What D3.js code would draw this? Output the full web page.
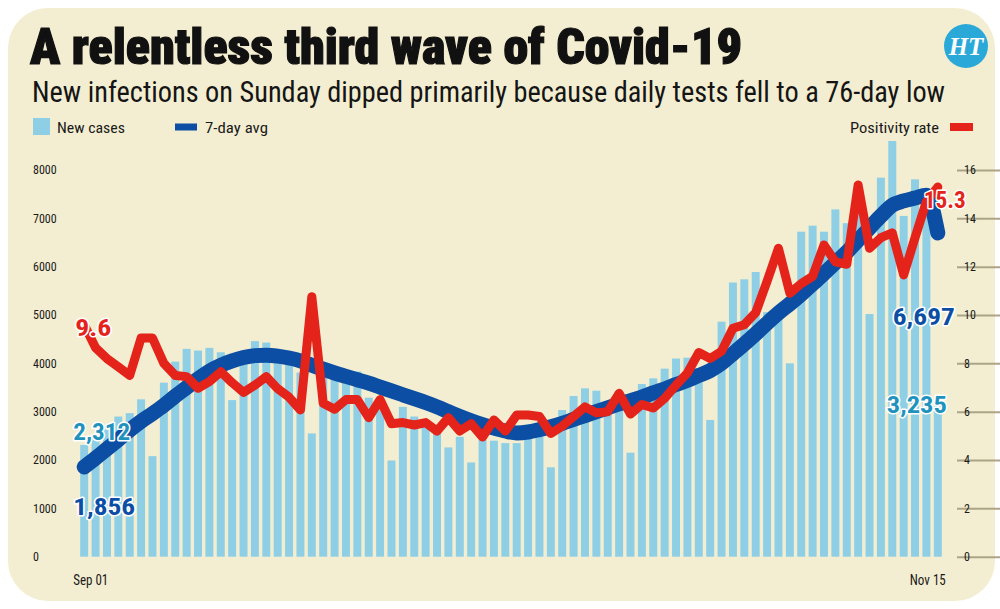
<!DOCTYPE html>
<html>
<head>
<meta charset="utf-8">
<script src="https://cdn.jsdelivr.net/npm/d3@7"></script>
<style>
  html, body { margin: 0; padding: 0; background: #ffffff; }
  svg { display: block; }
</style>
</head>
<body>
<svg id="chart" width="1000" height="609"></svg>
<script>
// ---------------- DATA ----------------
const titleText = "A relentless third wave of Covid-19";
const subtitleText = "New infections on Sunday dipped primarily because daily tests fell to a 76-day low";

// categories: Sep 01 .. Nov 15 (76 days)
const days = d3.timeDay.range(new Date(2020, 8, 1), new Date(2020, 10, 16));

// New cases (bars)
const newCases = [
  2312, 2450, 2700, 2900, 2970, 3256, 2080, 3600, 4035, 4300,
  4265, 4320, 4230, 3240, 4100, 4460, 4430, 4130, 4070, 3810,
  2550, 3820, 3710, 3830, 3830, 3290, 3200, 1990, 3100, 2900,
  2800, 2700, 2260, 2480, 1950, 2420, 2400, 2350, 2350, 2480,
  2480, 1850, 3035, 3324, 3483, 3434, 2950, 3100, 2152, 3572,
  3690, 3890, 4100, 4117, 3900, 2830, 4862, 5673, 5738, 5890,
  5060, 5000, 4000, 6724, 6848, 6724, 7185, 6900, 7745, 5021,
  7841, 8600, 7050, 7807, 7340, 3235
];

// 7-day average (thick blue line)
const avg7 = [
  1856, 2040, 2230, 2420, 2620, 2800, 2960, 3130, 3320, 3500,
  3680, 3840, 3960, 4050, 4120, 4160, 4170, 4150, 4110, 4050,
  3960, 3880, 3800, 3730, 3660, 3590, 3510, 3430, 3350, 3270,
  3190, 3100, 3000, 2900, 2810, 2730, 2660, 2600, 2560, 2580,
  2630, 2690, 2760, 2840, 2920, 3000, 3080, 3160, 3230, 3300,
  3390, 3470, 3560, 3650, 3750, 3850, 4000, 4200, 4400, 4610,
  4830, 5040, 5230, 5430, 5640, 5860, 6080, 6300, 6550, 6800,
  7050, 7270, 7360, 7420, 7480, 6697
];

// Positivity rate, % (red line, right axis)
const positivity = [
  9.6, 8.65, 8.2, 7.85, 7.5, 9.05, 9.05, 8.0, 7.5, 7.45,
  6.97, 7.24, 7.65, 7.2, 6.8, 7.1, 7.45, 6.95, 6.6, 6.07,
  10.76, 6.35, 6.1, 6.5, 6.5, 5.75, 6.5, 5.5, 5.55, 5.45,
  5.55, 5.2, 5.75, 5.2, 5.5, 4.95, 5.66, 5.2, 5.86, 5.86,
  5.8, 5.1, 5.4, 5.8, 6.2, 5.95, 6.0, 6.76, 5.9, 6.3,
  6.15, 6.55, 7.1, 7.6, 8.45, 8.2, 8.5, 9.45, 9.6, 10.1,
  11.4, 12.76, 10.9, 11.3, 11.6, 12.9, 12.2, 12.1, 15.38, 12.76,
  13.2, 13.4, 11.66, 13.2, 14.7, 15.3
];

const leftTicks = [0, 1000, 2000, 3000, 4000, 5000, 6000, 7000, 8000];
const rightTicks = [0, 2, 4, 6, 8, 10, 12, 14, 16];
const xTickLabels = ["Sep 01", "Nov 15"];
const legendLabels = ["New cases", "7-day avg", "Positivity rate"];
const callouts = [
  { text: "9.6",   series: "pos",   idx: 0 },
  { text: "2,312", series: "cases", idx: 0 },
  { text: "1,856", series: "avg",   idx: 0 },
  { text: "15.3",  series: "pos",   idx: 75 },
  { text: "6,697", series: "avg",   idx: 75 },
  { text: "3,235", series: "cases", idx: 75 }
];

// ---------------- STYLE ----------------
const C = {
  card: "#f3eed1",
  grid: "#aca487",
  bar: "#8ecfe5",
  blue: "#0c4ea3",
  red: "#e4231b",
  teal: "#1f93bd",
  text: "#1a1a1a",
  logo: "#2aa9d9"
};
const condensed = "'Liberation Sans Narrow', 'Roboto Condensed', 'DejaVu Sans Condensed', 'Open Sans', Roboto, sans-serif";

const svg = d3.select("#chart");

// card background
svg.append("rect")
  .attr("x", 8).attr("y", 8).attr("width", 987).attr("height", 593)
  .attr("rx", 40).attr("ry", 40)
  .attr("fill", C.card);

// title & subtitle
svg.append("text")
  .attr("x", 30).attr("y", 64)
  .attr("font-family", condensed)
  .attr("font-weight", 900)
  .attr("font-size", 50)
  .attr("fill", "#111")
  .attr("textLength", 712).attr("lengthAdjust", "spacingAndGlyphs")
  .style("stroke", "#111").style("stroke-width", 1.2)
  .text(titleText);

svg.append("text")
  .attr("x", 32).attr("y", 102)
  .attr("font-family", condensed)
  .attr("font-size", 29)
  .attr("fill", "#151515")
  .attr("textLength", 913).attr("lengthAdjust", "spacingAndGlyphs")
  .text(subtitleText);

// HT logo
const logo = svg.append("g").attr("transform", "translate(966,46)");
logo.append("circle").attr("r", 22).attr("fill", C.logo);
logo.append("text")
  .attr("text-anchor", "middle").attr("y", 9)
  .attr("font-family", "'Liberation Serif', 'DejaVu Serif', serif")
  .attr("font-style", "italic").attr("font-weight", "bold")
  .attr("font-size", 25).attr("fill", "#fff")
  .text("HT");

// legend
svg.append("rect").attr("x", 33).attr("y", 118).attr("width", 17).attr("height", 17).attr("fill", C.bar);
svg.append("text").attr("x", 57).attr("y", 133)
  .attr("font-family", condensed).attr("font-size", 15).attr("fill", C.text)
  .attr("textLength", 68).attr("lengthAdjust", "spacingAndGlyphs")
  .text(legendLabels[0]);
svg.append("rect").attr("x", 175).attr("y", 123.5).attr("width", 22).attr("height", 7).attr("fill", C.blue);
svg.append("text").attr("x", 205).attr("y", 133)
  .attr("font-family", condensed).attr("font-size", 15).attr("fill", C.text)
  .attr("textLength", 63).attr("lengthAdjust", "spacingAndGlyphs")
  .text(legendLabels[1]);
svg.append("text").attr("x", 850).attr("y", 133)
  .attr("font-family", condensed).attr("font-size", 15).attr("fill", C.text)
  .attr("textLength", 89).attr("lengthAdjust", "spacingAndGlyphs")
  .text(legendLabels[2]);
svg.append("rect").attr("x", 950).attr("y", 123).attr("width", 23).attr("height", 8).attr("fill", C.red);

// ---------------- SCALES ----------------
const x = d3.scaleBand()
  .domain(days.map((d, i) => i))
  .range([78.5, 943.5])
  .paddingInner(0.3)
  .paddingOuter(0.15);

const yL = d3.scaleLinear().domain([0, 8000]).range([556.7, 170]);
const yR = d3.scaleLinear().domain([0, 16]).range([556.7, 170]);
const cx = i => x(i) + x.bandwidth() / 2;

// gridlines (left axis)
const gridAxis = d3.axisLeft(yL).tickValues(leftTicks).tickSize(-891).tickFormat("");
const gg = svg.append("g").attr("transform", "translate(957,0)").call(gridAxis);
gg.select(".domain").remove();
gg.selectAll("line").attr("transform", "translate(0,0)");
gg.selectAll(".tick line").attr("stroke", C.grid).attr("stroke-width", 2);

// left tick labels
const la = d3.axisLeft(yL).tickValues(leftTicks).tickSize(0).tickFormat(d3.format("d"));
const lg = svg.append("g").attr("transform", "translate(33,0)").call(la);
lg.select(".domain").remove();
lg.selectAll("text")
  .attr("text-anchor", "start").attr("x", 0)
  .attr("font-family", condensed).attr("font-size", 12).attr("fill", C.text);

// right tick labels
const ra = d3.axisRight(yR).tickValues(rightTicks).tickSize(0).tickFormat(d3.format("d"));
const rg = svg.append("g").attr("transform", "translate(962,0)").call(ra);
rg.select(".domain").remove();
rg.selectAll("text")
  .attr("x", 2)
  .attr("font-family", condensed).attr("font-size", 12).attr("fill", C.text);

// bars
svg.append("g").selectAll("rect")
  .data(newCases)
  .join("rect")
  .attr("x", (d, i) => x(i))
  .attr("width", x.bandwidth())
  .attr("y", d => yL(d))
  .attr("height", d => yL(0) - yL(d))
  .attr("fill", C.bar);

// 7-day average line
const avgLine = d3.line()
  .x((d, i) => cx(i))
  .y(d => yL(d))
  .curve(d3.curveMonotoneX);
svg.append("path")
  .datum(avg7)
  .attr("d", avgLine)
  .attr("fill", "none")
  .attr("stroke", C.blue)
  .attr("stroke-width", 15)
  .attr("stroke-linecap", "round")
  .attr("stroke-linejoin", "round");

// positivity line
const posLine = d3.line()
  .x((d, i) => cx(i))
  .y(d => yR(d));
svg.append("path")
  .datum(positivity)
  .attr("d", posLine)
  .attr("fill", "none")
  .attr("stroke", C.red)
  .attr("stroke-width", 9)
  .attr("stroke-linecap", "round")
  .attr("stroke-linejoin", "round");

// x labels
svg.append("text")
  .attr("x", x(0) - 7).attr("y", 585)
  .attr("font-family", condensed).attr("font-size", 15).attr("fill", C.text)
  .attr("textLength", 35).attr("lengthAdjust", "spacingAndGlyphs")
  .text(xTickLabels[0]);
svg.append("text")
  .attr("x", x(75) + x.bandwidth() + 4).attr("y", 585)
  .attr("text-anchor", "end")
  .attr("font-family", condensed).attr("font-size", 15).attr("fill", C.text)
  .attr("textLength", 36).attr("lengthAdjust", "spacingAndGlyphs")
  .text(xTickLabels[1]);

// callouts
const calloutPos = {
  "9.6":   { dx: -9,  y: 336, anchor: "start", len: 36, color: C.red },
  "2,312": { dx: -11, y: 440, anchor: "start", len: 57, color: C.teal },
  "1,856": { dx: -11, y: 515, anchor: "start", len: 62, color: C.blue },
  "15.3":  { dx: 28,  y: 208, anchor: "end",   len: 42, color: C.red },
  "6,697": { dx: 17,  y: 325, anchor: "end",   len: 62, color: C.blue },
  "3,235": { dx: 9,   y: 413, anchor: "end",   len: 60, color: C.teal }
};
svg.append("g").selectAll("text")
  .data(callouts)
  .join("text")
  .attr("x", d => cx(d.idx) + calloutPos[d.text].dx)
  .attr("y", d => calloutPos[d.text].y)
  .attr("text-anchor", d => calloutPos[d.text].anchor)
  .attr("font-family", condensed)
  .attr("font-weight", "bold")
  .attr("font-size", 24)
  .attr("textLength", d => calloutPos[d.text].len)
  .attr("lengthAdjust", "spacingAndGlyphs")
  .attr("fill", d => calloutPos[d.text].color)
  .attr("stroke", "#ffffff")
  .attr("stroke-width", 3)
  .attr("paint-order", "stroke")
  .attr("stroke-linejoin", "round")
  .text(d => d.text);
</script>
</body>
</html>
